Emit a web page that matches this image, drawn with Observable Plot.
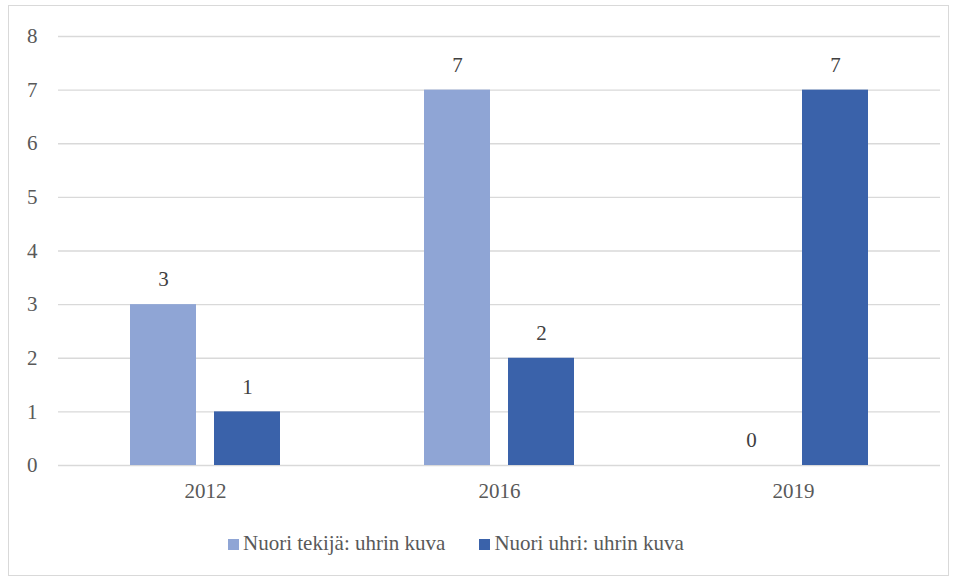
<!DOCTYPE html>
<html>
<head>
<meta charset="utf-8">
<script src="https://cdn.jsdelivr.net/npm/d3@7"></script>
<script src="https://cdn.jsdelivr.net/npm/@observablehq/plot@0.6"></script>
<style>
  html, body { margin: 0; padding: 0; background: #fff; }
  #wrap { position: relative; width: 959px; height: 579px; font-family: 'Liberation Serif', 'Times New Roman', serif; }
  #frame { position: absolute; left: 8px; top: 5px; width: 941px; height: 571px; border: 1.3px solid #d9d9d9; box-sizing: border-box; }
  #chart { position: absolute; left: 0; top: 0; }
  #legend { position: absolute; left: 228px; top: 531px; display: flex; font-size: 21px; color: #595959; white-space: nowrap; }
  .item { display: flex; align-items: center; }
  .sw { width: 11px; height: 11px; margin-right: 4px; margin-top: 1px; }
  .item + .item { margin-left: 34px; }
</style>
</head>
<body>
<div id="wrap">
  <div id="frame"></div>
  <div id="chart"></div>
  <div id="legend"></div>
</div>
<script>
const years = ["2012", "2016", "2019"];
const seriesNames = ["Nuori tekijä: uhrin kuva", "Nuori uhri: uhrin kuva"];
const tekijaValues = [3, 7, 0];
const uhriValues = [1, 2, 7];
const colors = ["#8fa5d5", "#3a62aa"];
const yTicks = [0, 1, 2, 3, 4, 5, 6, 7, 8];

const data = [];
years.forEach((y, i) => {
  data.push({year: y, series: seriesNames[0], value: tekijaValues[i]});
  data.push({year: y, series: seriesNames[1], value: uhriValues[i]});
});

const chart = Plot.plot({
  width: 959,
  height: 525,
  marginLeft: 58,
  marginRight: 19,
  marginTop: 36,
  marginBottom: 60,
  style: {fontFamily: "'Liberation Serif', 'Times New Roman', serif", fontSize: "21px", color: "#595959", background: "transparent"},
  fx: {domain: years, paddingInner: 0, paddingOuter: 0, label: null, tickSize: 0, tickPadding: 18},
  x: {domain: seriesNames, paddingInner: 0.214, paddingOuter: 0.857, axis: null},
  y: {domain: [0, 8], ticks: yTicks, label: null, tickSize: 0, tickPadding: 21, tickFormat: d => String(d)},
  color: {domain: seriesNames, range: colors},
  marks: [
    Plot.gridY(yTicks, {stroke: "#d9d9d9", strokeOpacity: 1, strokeWidth: 1.3}),
    Plot.barY(data, {fx: "year", x: "series", y: "value", fill: "series", inset: 0}),
    Plot.text(data, {fx: "year", x: "series", y: "value", text: d => String(d.value), dy: -25, fill: "#404040", fontSize: 21})
  ]
});
document.getElementById("chart").appendChild(chart);

const legend = document.getElementById("legend");
seriesNames.forEach((name, i) => {
  const item = document.createElement("div");
  item.className = "item";
  const sw = document.createElement("div");
  sw.className = "sw";
  sw.style.background = colors[i];
  const label = document.createElement("span");
  label.textContent = name;
  item.appendChild(sw);
  item.appendChild(label);
  legend.appendChild(item);
});
</script>
</body>
</html>
